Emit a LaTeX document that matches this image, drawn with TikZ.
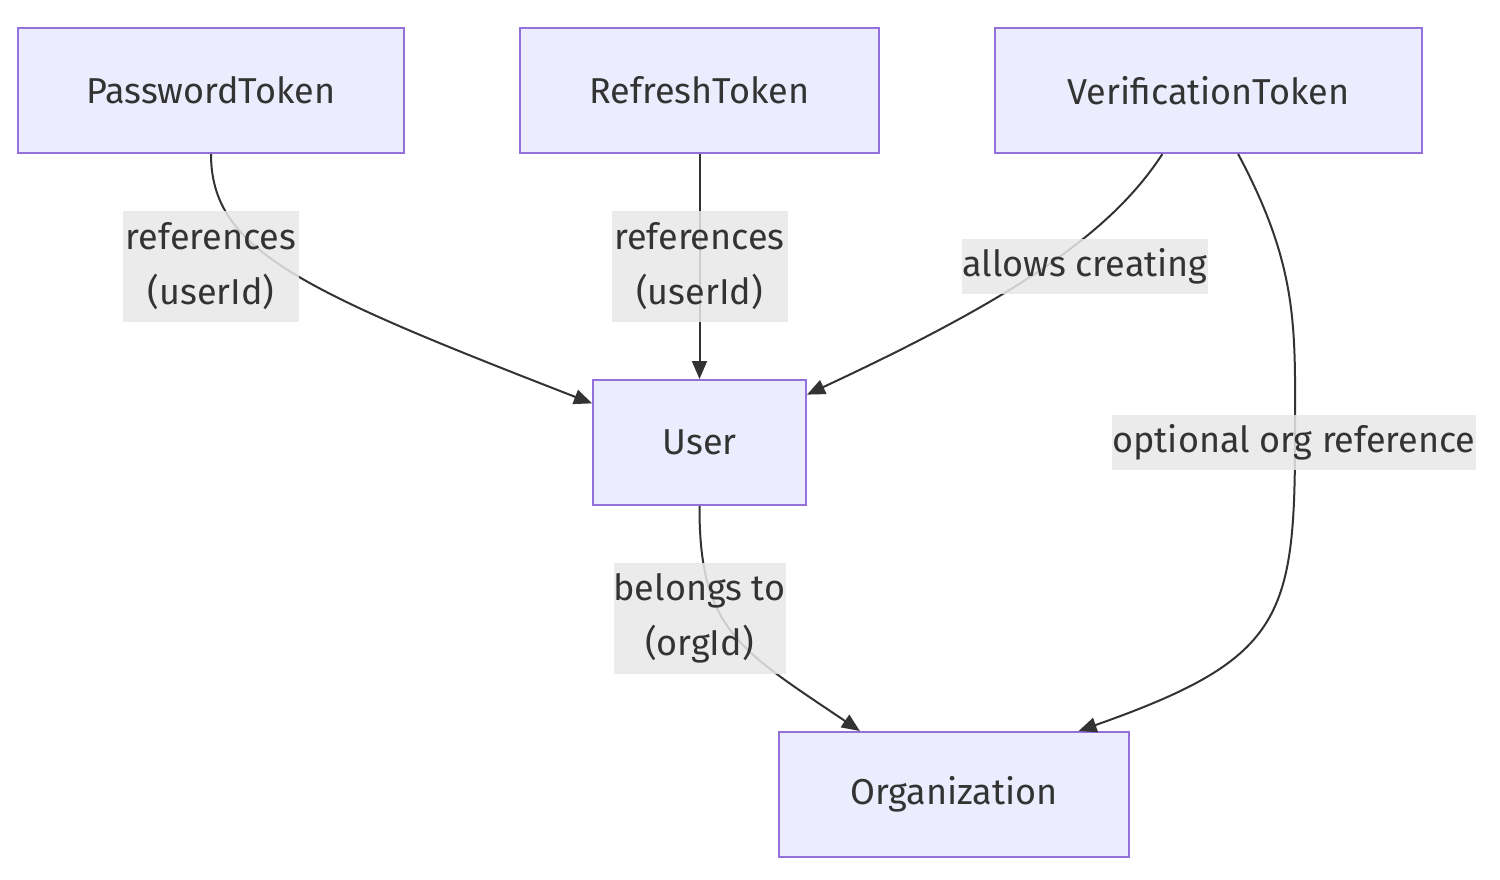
\documentclass[tikz,border=0pt]{standalone}
\usepackage{fontspec}
\setmainfont{Fira Sans}
\usetikzlibrary{arrows.meta}
\definecolor{boxfill}{HTML}{ECECFF}
\definecolor{boxline}{HTML}{9370DB}
\definecolor{ink}{HTML}{333333}
\definecolor{lblfill}{HTML}{E8E8E8}
\begin{document}
\begin{tikzpicture}[x=0.5pt,y=-0.5pt]
  \tikzstyle{entite}=[rectangle, draw=boxline, fill=boxfill, line width=1pt,
  text=ink, font=\fontsize{18}{22}\selectfont, minimum height=62.5pt, inner sep=0pt]
  \tikzstyle{lien}=[-{Triangle[length=9pt,width=7.5pt]}, draw=ink, line width=1pt]
  \tikzstyle{etiq}=[fill=lblfill, fill opacity=0.85, text opacity=1, text=ink,
  font=\fontsize{18}{27.5}\selectfont, align=center, inner sep=0pt, minimum height=27.5pt]
  \tikzstyle{etiqdeux}=[etiq, minimum height=55.5pt, minimum width=88pt]
  \useasboundingbox (0,0) rectangle (1500,879);
  \foreach \n/\x/\y/\w/\t in {pw/211/90.5/386/PasswordToken,rt/699.5/90.5/359/RefreshToken,
    vt/1208.5/90.5/427/VerificationToken,user/699.5/442.5/213/User,org/954/794.5/350/Organization} {
    \node[entite, minimum width=\w*0.5pt] (\n) at (\x,\y) {\t};
  }
  % liens
  \draw[lien] (pw.south) .. controls (211,250) and (300,290) .. (user.160);
  \draw[lien] (rt.south) -- (user.north);
  \draw[lien] (vt.234) .. controls (1110,235) and (1010,300) .. (user.24);
  \draw[lien] (vt.295) .. controls (1300,270) and (1295,330) .. (1295,440)
    .. controls (1295,620) and (1280,660) .. (org.27);
  \draw[lien] (user.south) .. controls (699,630) and (740,650) .. (org.146);
  % etiquettes
  \node[etiqdeux] (l1) at (211,266.5) {references\\(userId)};
  \node[etiqdeux] (l2) at (699.5,266.5) {references\\(userId)};
  \node[etiq] (l3) at (1085,266.5) {allows creating};
  \node[etiq] (l4) at (1294,442) {optional org reference};
  \node[etiqdeux, minimum width=86pt] (l5) at (699.5,618.5) {belongs to\\(orgId)};
\end{tikzpicture}
\end{document}
